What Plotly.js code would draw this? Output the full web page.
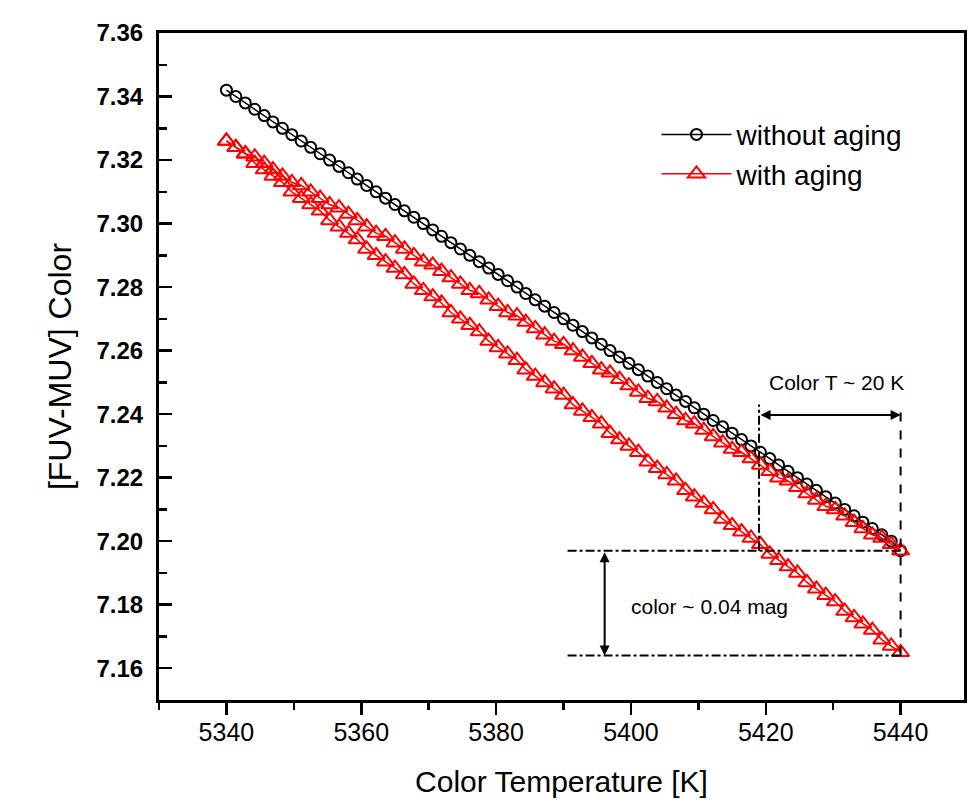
<!DOCTYPE html>
<html>
<head>
<meta charset="utf-8">
<script src="https://cdn.plot.ly/plotly-3.0.1.min.js"></script>
<style>
html,body{margin:0;padding:0;background:#fff;}
#chart{width:980px;height:810px;}
</style>
</head>
<body>
<div id="chart"></div>
<script>
// Color temperature [K] (shared sampling of all curves)
const temperature = [5340.0, 5341.4, 5342.8, 5344.2, 5345.6, 5346.9, 5348.3, 5349.7, 5351.1, 5352.5,
  5353.9, 5355.3, 5356.7, 5358.1, 5359.4, 5360.8, 5362.2, 5363.6, 5365.0, 5366.4,
  5367.8, 5369.2, 5370.6, 5371.9, 5373.3, 5374.7, 5376.1, 5377.5, 5378.9, 5380.3,
  5381.7, 5383.1, 5384.4, 5385.8, 5387.2, 5388.6, 5390.0, 5391.4, 5392.8, 5394.2,
  5395.6, 5396.9, 5398.3, 5399.7, 5401.1, 5402.5, 5403.9, 5405.3, 5406.7, 5408.1,
  5409.4, 5410.8, 5412.2, 5413.6, 5415.0, 5416.4, 5417.8, 5419.2, 5420.6, 5421.9,
  5423.3, 5424.7, 5426.1, 5427.5, 5428.9, 5430.3, 5431.7, 5433.1, 5434.4, 5435.8,
  5437.2, 5438.6, 5440.0];

// [FUV-MUV] colour without aging
const colorNoAging = [7.342, 7.340, 7.338, 7.336, 7.334, 7.332, 7.330, 7.328, 7.326, 7.324,
  7.322, 7.320, 7.318, 7.316, 7.314, 7.312, 7.310, 7.308, 7.306, 7.304,
  7.302, 7.300, 7.298, 7.296, 7.294, 7.292, 7.290, 7.288, 7.286, 7.284,
  7.282, 7.280, 7.278, 7.276, 7.274, 7.272, 7.270, 7.268, 7.266, 7.264,
  7.262, 7.260, 7.258, 7.256, 7.254, 7.252, 7.250, 7.248, 7.246, 7.244,
  7.242, 7.240, 7.238, 7.236, 7.234, 7.232, 7.230, 7.228, 7.226, 7.224,
  7.222, 7.220, 7.218, 7.216, 7.214, 7.212, 7.210, 7.208, 7.206, 7.204,
  7.202, 7.200, 7.197];

// with aging, upper branch
const colorAgingUpper = [7.326, 7.324, 7.322, 7.321, 7.319, 7.317, 7.315, 7.313, 7.312, 7.310,
  7.308, 7.306, 7.305, 7.303, 7.301, 7.299, 7.297, 7.296, 7.294, 7.292,
  7.290, 7.288, 7.287, 7.285, 7.283, 7.281, 7.279, 7.278, 7.276, 7.274,
  7.272, 7.271, 7.269, 7.267, 7.265, 7.263, 7.262, 7.260, 7.258, 7.256,
  7.254, 7.253, 7.251, 7.249, 7.247, 7.245, 7.244, 7.242, 7.240, 7.238,
  7.237, 7.235, 7.233, 7.231, 7.229, 7.228, 7.226, 7.224, 7.222, 7.220,
  7.219, 7.217, 7.215, 7.213, 7.211, 7.210, 7.208, 7.206, 7.204, 7.202,
  7.201, 7.199, 7.197];

// with aging, lower branch
const colorAgingLower = [7.326, 7.324, 7.322, 7.319, 7.317, 7.315, 7.313, 7.310, 7.308, 7.306,
  7.304, 7.301, 7.299, 7.297, 7.295, 7.292, 7.290, 7.288, 7.286, 7.284,
  7.281, 7.279, 7.277, 7.275, 7.272, 7.270, 7.268, 7.266, 7.263, 7.261,
  7.259, 7.257, 7.254, 7.252, 7.250, 7.248, 7.246, 7.243, 7.241, 7.239,
  7.237, 7.234, 7.232, 7.230, 7.228, 7.225, 7.223, 7.221, 7.219, 7.216,
  7.214, 7.212, 7.210, 7.207, 7.205, 7.203, 7.201, 7.199, 7.196, 7.194,
  7.192, 7.190, 7.187, 7.185, 7.183, 7.181, 7.178, 7.176, 7.174, 7.172,
  7.169, 7.167, 7.165];

const seriesNames = ['without aging', 'with aging'];
const xTickVals = [5340, 5360, 5380, 5400, 5420, 5440];
const xMinorVals = [5330, 5350, 5370, 5390, 5410, 5430];
const yTickVals = [7.16, 7.18, 7.20, 7.22, 7.24, 7.26, 7.28, 7.30, 7.32, 7.34, 7.36];
const yMinorVals = [7.15, 7.17, 7.19, 7.21, 7.23, 7.25, 7.27, 7.29, 7.31, 7.33, 7.35];

// annotation reference values
const tLeft = 5419, tRight = 5440;
const cHigh = 7.197, cLow = 7.164, cArrow = 7.2397, cTop = 7.243;
const hLineStart = 5390.6, vArrowX = 5396.1;

const FONT = '"Liberation Sans", Arial, sans-serif';

const traces = [
  {
    x: temperature, y: colorNoAging, name: seriesNames[0], type: 'scatter', mode: 'lines+markers',
    line: {color: '#000', width: 1.5},
    marker: {symbol: 'circle-open', size: 11, color: '#000', line: {width: 2, color: '#000'}}
  },
  {
    x: temperature, y: colorAgingUpper, name: seriesNames[1], type: 'scatter', mode: 'lines+markers',
    line: {color: '#ff0000', width: 1.5},
    marker: {symbol: 'triangle-up-open', size: 15, color: '#ff0000', line: {width: 2, color: '#ff0000'}}
  },
  {
    x: temperature, y: colorAgingLower, name: seriesNames[1], type: 'scatter', mode: 'lines+markers',
    showlegend: false,
    line: {color: '#ff0000', width: 1.5},
    marker: {symbol: 'triangle-up-open', size: 15, color: '#ff0000', line: {width: 2, color: '#ff0000'}}
  }
];

const shapes = [
  {type: 'line', xref: 'x', yref: 'y', x0: hLineStart, x1: tRight, y0: cHigh, y1: cHigh, line: {color: '#000', width: 2, dash: 'dashdot'}},
  {type: 'line', xref: 'x', yref: 'y', x0: hLineStart, x1: tRight, y0: cLow, y1: cLow, line: {color: '#000', width: 2, dash: 'dashdot'}},
  {type: 'line', xref: 'x', yref: 'y', x0: tLeft, x1: tLeft, y0: cHigh, y1: cTop, line: {color: '#000', width: 2, dash: 'dashdot'}},
  {type: 'line', xref: 'x', yref: 'y', x0: tRight, x1: tRight, y0: cLow, y1: cTop, line: {color: '#000', width: 2, dash: 'dash'}}
];

const annotations = [
  {x: tRight, y: cArrow, ax: tLeft, ay: cArrow, xref: 'x', yref: 'y', axref: 'x', ayref: 'y', text: '',
   showarrow: true, arrowhead: 2, startarrowhead: 2, arrowside: 'end+start', arrowwidth: 2, arrowsize: 1, arrowcolor: '#000'},
  {x: vArrowX, y: cLow, ax: vArrowX, ay: cHigh, xref: 'x', yref: 'y', axref: 'x', ayref: 'y', text: '',
   showarrow: true, arrowhead: 2, startarrowhead: 2, arrowside: 'end+start', arrowwidth: 2, arrowsize: 1, arrowcolor: '#000'},
  {x: 5430.5, y: 7.250, xref: 'x', yref: 'y', text: 'Color T ~ 20 K', showarrow: false,
   font: {family: FONT, size: 21, color: '#000'}},
  {x: 5411.6, y: 7.1795, xref: 'x', yref: 'y', text: 'color ~ 0.04 mag', showarrow: false,
   font: {family: FONT, size: 21, color: '#000'}}
];

const layout = {
  width: 980, height: 810,
  margin: {l: 159, r: 16, t: 33, b: 110},
  paper_bgcolor: '#fff', plot_bgcolor: '#fff',
  showlegend: true,
  legend: {x: 0.618, y: 0.885, xanchor: 'left', yanchor: 'top', bgcolor: 'rgba(0,0,0,0)',
    font: {family: FONT, size: 28, color: '#000'}, itemwidth: 70, tracegroupgap: 0},
  xaxis: {
    range: [5330, 5449.4], tickmode: 'array', tickvals: xTickVals, ticktext: xTickVals.map(String),
    ticks: 'outside', ticklen: 12, tickwidth: 2.5, tickcolor: '#000',
    minor: {tickmode: 'array', tickvals: xMinorVals, ticks: 'outside', ticklen: 7, tickwidth: 2.5, tickcolor: '#000'},
    showline: true, linewidth: 3, linecolor: '#000', mirror: true,
    showgrid: false, zeroline: false,
    tickfont: {family: FONT, size: 25, color: '#000'},
    ticklabelstandoff: -4,
    title: {text: 'Color Temperature [K]', font: {family: FONT, size: 30, color: '#000'}, standoff: 26}
  },
  yaxis: {
    range: [7.15, 7.36], tickmode: 'array', tickvals: yTickVals, ticktext: yTickVals.map(v => v.toFixed(2)),
    ticks: 'inside', ticklen: 13, tickwidth: 2.5, tickcolor: '#000',
    minor: {tickmode: 'array', tickvals: yMinorVals, ticks: 'inside', ticklen: 8, tickwidth: 2.5, tickcolor: '#000'},
    showline: true, linewidth: 3, linecolor: '#000', mirror: true,
    showgrid: false, zeroline: false,
    tickfont: {family: FONT, size: 24, color: '#000', weight: 'bold'},
    ticklabelstandoff: 8,
    title: {text: '[FUV-MUV] Color', font: {family: FONT, size: 32, color: '#000'}, standoff: 16}
  },
  shapes: shapes,
  annotations: annotations
};

Plotly.newPlot('chart', traces, layout, {displayModeBar: false, staticPlot: true});
</script>
</body>
</html>
